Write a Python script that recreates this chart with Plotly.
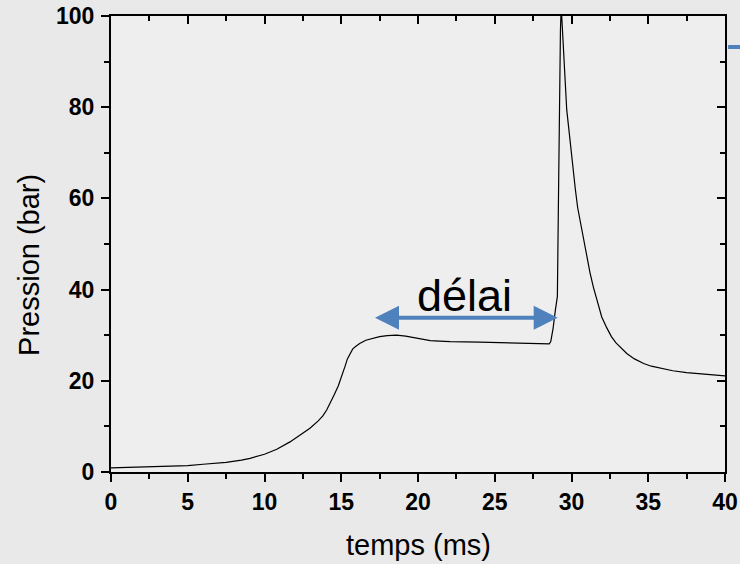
import plotly.graph_objects as go

# Data
temps_ms = [0, 2, 4, 5, 6, 7.5, 8.5, 9.06, 10, 10.8, 11.66, 12.3, 12.96, 13.5, 13.8, 14.05,
            14.3, 14.55, 14.81, 15.0, 15.24, 15.4, 15.57, 15.75, 16.0, 16.2, 16.6, 17.0,
            17.5, 18.0, 18.6, 19.2, 19.9, 20.8, 21.4, 22.1, 24, 26, 27.3, 28.0, 28.4, 28.55,
            28.65, 28.8, 28.95, 29.08, 29.15, 29.2, 29.28, 29.33, 29.38, 29.47, 29.55, 29.69,
            29.8, 29.9, 30.0, 30.12, 30.25, 30.4, 30.55, 30.7, 30.85, 31.0, 31.2, 31.42, 31.7,
            31.97, 32.3, 32.6, 32.9, 33.2, 33.6, 34.1, 34.7, 35.2, 35.8, 36.6, 37.5, 38.7, 40]
pression_bar = [0.9, 1.1, 1.3, 1.4, 1.7, 2.1, 2.6, 3.0, 3.9, 5.0, 6.6, 8.0, 9.6, 11.2, 12.3,
                13.6, 15.2, 17.0, 18.9, 20.6, 23.1, 24.8, 26.0, 27.0, 27.7, 28.2, 28.9, 29.3,
                29.7, 29.9, 30.0, 29.8, 29.3, 28.8, 28.7, 28.6, 28.5, 28.3, 28.2, 28.05, 28.0,
                28.1, 28.6, 31.5, 35.5, 38.5, 59.6, 81.6, 97, 102, 99, 94, 88, 79.4, 76, 72.8,
                69, 65.5, 62, 58, 55.3, 52, 49.5, 47.0, 43.8, 40.6, 37.0, 34.0, 31.6, 29.7,
                28.3, 27.3, 26.0, 24.8, 23.8, 23.2, 22.7, 22.2, 21.8, 21.4, 21.1]

x_range = [0, 40]
y_range = [0, 100]
x_ticks = [0, 5, 10, 15, 20, 25, 30, 35, 40]
y_ticks = [0, 20, 40, 60, 80, 100]

delai_start = 17.1
delai_end = 29.1
delai_level = 33.8

FONT = "Arial, Liberation Sans, sans-serif"
BLUE = "#4F81BD"

fig = go.Figure()
fig.add_trace(go.Scatter(x=temps_ms, y=pression_bar, mode="lines",
                         line=dict(color="black", width=1.2), hoverinfo="skip",
                         showlegend=False))
# invisible trace so the mirror axes exist
fig.add_trace(go.Scatter(x=[None], y=[None], xaxis="x2", yaxis="y2",
                         mode="lines", showlegend=False, hoverinfo="skip"))

axis_common = dict(showline=True, linecolor="black", linewidth=2, showgrid=False,
                   zeroline=False, ticklen=8, tickwidth=2, tickcolor="black",
                   automargin=False, fixedrange=True)

fig.update_layout(
    width=740, height=564,
    margin=dict(l=111, r=15, t=16, b=92, autoexpand=False),
    paper_bgcolor="#e9e9e9",
    plot_bgcolor="#eeeeee",
    font=dict(family=FONT, color="black"),
    xaxis=dict(range=x_range, tickvals=x_ticks, ticks="outside",
               tickfont=dict(size=23, family=FONT, weight="bold"),
               minor=dict(ticks="outside", dtick=2.5, ticklen=5, tickwidth=2,
                          tickcolor="black"),
               **axis_common),
    yaxis=dict(range=y_range, tickvals=y_ticks, ticks="outside",
               tickfont=dict(size=23, family=FONT, weight="bold"),
               ticklabelstandoff=2,
               minor=dict(ticks="outside", dtick=10, ticklen=5, tickwidth=2,
                          tickcolor="black"),
               **axis_common),
    xaxis2=dict(range=x_range, overlaying="x", side="top", tickvals=x_ticks,
                ticks="inside", showticklabels=False,
                minor=dict(ticks="inside", dtick=2.5, ticklen=5, tickwidth=2,
                           tickcolor="black"),
                **axis_common),
    yaxis2=dict(range=y_range, overlaying="y", side="right", tickvals=y_ticks,
                ticks="inside", showticklabels=False,
                minor=dict(ticks="inside", dtick=10, ticklen=5, tickwidth=2,
                           tickcolor="black"),
                **axis_common),
)

fig.add_annotation(x=0.5, y=-0.16, xref="paper", yref="paper", text="temps (ms)",
                   showarrow=False, font=dict(size=29, family=FONT),
                   xanchor="center", yanchor="middle")
fig.add_annotation(x=-0.1336, y=0.454, xref="paper", yref="paper", text="Pression (bar)",
                   textangle=-90, showarrow=False, font=dict(size=29, family=FONT),
                   xanchor="center", yanchor="middle")

# délai double arrow
fig.add_annotation(x=delai_end, y=delai_level, ax=delai_start, ay=delai_level,
                   xref="x", yref="y", axref="x", ayref="y", text="",
                   showarrow=True, arrowhead=2, startarrowhead=2, arrowside="end+start",
                   arrowwidth=4, arrowsize=1.2, startarrowsize=1.2, arrowcolor=BLUE)
fig.add_annotation(x=23.0, y=38.6, xref="x", yref="y", text="délai", showarrow=False,
                   font=dict(size=45, family=FONT), xanchor="center", yanchor="middle")

# blue fragment at top right edge
fig.add_shape(type="line", xref="paper", yref="paper", x0=1.005, x1=1.05,
              y0=0.932, y1=0.932, line=dict(color=BLUE, width=4))

fig.write_html("out.html", config={"displayModeBar": False})
